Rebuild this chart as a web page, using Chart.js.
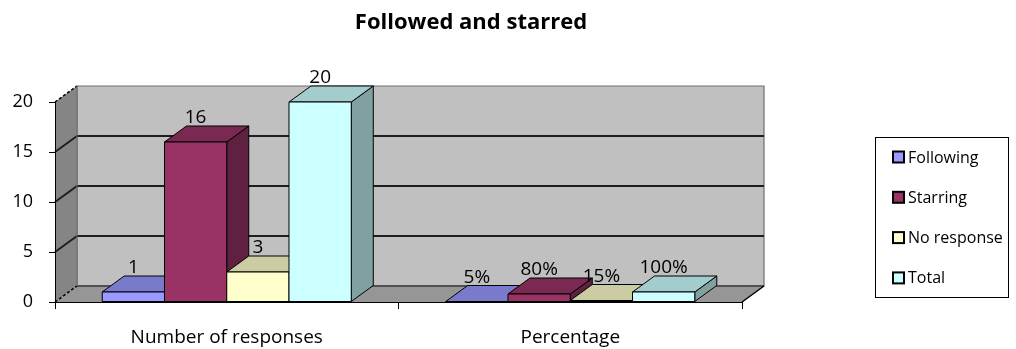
<!DOCTYPE html>
<html>
<head>
<meta charset="utf-8">
<title>Followed and starred</title>
<script src="https://cdn.jsdelivr.net/npm/chart.js@4/dist/chart.umd.min.js"></script>
<style>
  html, body { margin: 0; padding: 0; background: #fff; }
  canvas { display: block; }
</style>
</head>
<body>
<canvas id="chart" width="1016" height="349"></canvas>
<script>
// Categories and series
const categories = ["Number of responses", "Percentage"];
const seriesNames = ["Following", "Starring", "No response", "Total"];
// Values: first category is a count, second is a share (0..1)
const following  = [1, 0.05];
const starring   = [16, 0.80];
const noResponse = [3, 0.15];
const total      = [20, 1.00];
const yTicks = [0, 5, 10, 15, 20];
const chartTitle = "Followed and starred";

const seriesColors = ["#9999FF", "#993366", "#FFFFCC", "#CCFFFF"];
const FONT = "'Open Sans', Lato, sans-serif";

// Oblique depth offset of the 3-D look
const DEPTH_X = 22, DEPTH_Y = 16;

function shade(hex, f) {
  const n = parseInt(hex.slice(1), 16);
  const r = Math.round(((n >> 16) & 255) * f);
  const g = Math.round(((n >> 8) & 255) * f);
  const b = Math.round((n & 255) * f);
  return `rgb(${r},${g},${b})`;
}

function poly(ctx, pts, fill, stroke, width, dash) {
  ctx.save();
  ctx.beginPath();
  ctx.moveTo(pts[0][0], pts[0][1]);
  for (let i = 1; i < pts.length; i++) ctx.lineTo(pts[i][0], pts[i][1]);
  ctx.closePath();
  if (fill) { ctx.fillStyle = fill; ctx.fill(); }
  if (stroke) {
    ctx.strokeStyle = stroke; ctx.lineWidth = width || 1;
    if (dash) ctx.setLineDash(dash);
    ctx.stroke();
  }
  ctx.restore();
}

function line(ctx, x1, y1, x2, y2, color, width, dash) {
  ctx.save();
  ctx.beginPath();
  ctx.moveTo(x1, y1); ctx.lineTo(x2, y2);
  ctx.strokeStyle = color; ctx.lineWidth = width;
  if (dash) ctx.setLineDash(dash);
  ctx.stroke();
  ctx.restore();
}

function formatValue(catIndex, v) {
  return catIndex === 1 ? Math.round(v * 100) + "%" : String(v);
}

// Walls, floor and gridlines of the 3-D box
const wallsPlugin = {
  id: "walls",
  beforeDraw(chart) {
    const { ctx, chartArea: a, scales: { y } } = chart;
    const L = a.left, R = a.right, B = a.bottom, T = a.top;
    const dx = DEPTH_X, dy = DEPTH_Y;
    // back wall
    poly(ctx, [[L + dx, T - dy], [R + dx, T - dy], [R + dx, B - dy], [L + dx, B - dy]], "#C0C0C0", "#6e6e6e", 1.2);
    // left wall
    poly(ctx, [[L, T], [L + dx, T - dy], [L + dx, B - dy], [L, B]], "#858585", null);
    // floor
    poly(ctx, [[L, B], [L + dx, B - dy], [R + dx, B - dy], [R, B]], "#969696", null);
    // gridlines on back and left walls
    yTicks.forEach(v => {
      const py = y.getPixelForValue(v);
      if (v > 0 && v < 20) {
        line(ctx, L + dx, py - dy, R + dx, py - dy, "#1e1e1e", 2);
        line(ctx, L, py, L + dx, py - dy, "#1e1e1e", 2);
      }
    });
    // edges of the box
    line(ctx, L, T, L + dx, T - dy, "#000", 1.5, [3, 2]);
    line(ctx, L, B, L + dx, B - dy, "#000", 1.5, [3, 2]);
    line(ctx, L + dx, B - dy, R + dx, B - dy, "#3a3a3a", 1.5);
    line(ctx, L + dx, T - dy, L + dx, B - dy, "#6a6a6a", 1);
    line(ctx, R + dx, B - dy, R, B, "#000", 1.5);

    // chart title
    ctx.save();
    ctx.font = "bold 22px " + FONT;
    ctx.fillStyle = "#000";
    ctx.textAlign = "center";
    ctx.textBaseline = "middle";
    ctx.fillText(chartTitle, 471, 23);
    ctx.restore();
  }
};

// Draws each bar as a block: front, top and right side faces
const blocksPlugin = {
  id: "blocks",
  beforeDatasetDraw() { return false; },
  afterDatasetsDraw(chart) {
    const { ctx } = chart;
    const dx = DEPTH_X, dy = DEPTH_Y;
    const n = chart.data.labels.length;
    for (let c = 0; c < n; c++) {
      chart.data.datasets.forEach((ds, d) => {
        const el = chart.getDatasetMeta(d).data[c];
        const { x, y, base, width } = el.getProps(["x", "y", "base", "width"], true);
        const l = x - width / 2, r = x + width / 2;
        const col = seriesColors[d];
        // right side
        poly(ctx, [[r, y], [r + dx, y - dy], [r + dx, base - dy], [r, base]], shade(col, 0.63), "#000", 1);
        // top
        poly(ctx, [[l, y], [l + dx, y - dy], [r + dx, y - dy], [r, y]], shade(col, 0.8), "#000", 1);
        // front
        poly(ctx, [[l, y], [r, y], [r, base], [l, base]], col, "#000", 1);
      });
      // value labels
      chart.data.datasets.forEach((ds, d) => {
        const el = chart.getDatasetMeta(d).data[c];
        const { x, y } = el.getProps(["x", "y"], true);
        ctx.save();
        ctx.font = "19px " + FONT;
        ctx.fillStyle = "#000";
        ctx.textAlign = "center";
        ctx.textBaseline = "middle";
        ctx.fillText(formatValue(c, ds.data[c]), x, y - dy - 8);
        ctx.restore();
      });
    }
  }
};

// Boxed legend on the right
const boxLegendPlugin = {
  id: "boxLegend",
  afterDraw(chart) {
    const { ctx } = chart;
    const bx = 875, by = 137, bw = 133, bh = 160;
    ctx.save();
    ctx.fillStyle = "#fff";
    ctx.fillRect(bx, by, bw, bh);
    ctx.strokeStyle = "#000"; ctx.lineWidth = 1;
    ctx.strokeRect(bx + 0.5, by + 0.5, bw, bh);
    ctx.font = "16px " + FONT;
    ctx.textBaseline = "middle";
    chart.data.datasets.forEach((ds, i) => {
      const cy = 157 + i * 40.3;
      ctx.fillStyle = seriesColors[i];
      ctx.fillRect(893, cy - 5.5, 11, 11);
      ctx.strokeStyle = "#000"; ctx.lineWidth = 2;
      ctx.strokeRect(893, cy - 5.5, 11, 11);
      ctx.fillStyle = "#000";
      ctx.fillText(ds.label, 908, cy + 1);
    });
    ctx.restore();
  }
};

const seriesValues = [following, starring, noResponse, total];

new Chart(document.getElementById("chart"), {
  type: "bar",
  data: {
    labels: categories,
    datasets: seriesNames.map((name, i) => ({
      label: name,
      data: seriesValues[i],
      backgroundColor: seriesColors[i],
      borderColor: "#000",
      borderWidth: 1,
      categoryPercentage: 0.725,
      barPercentage: 1
    }))
  },
  options: {
    responsive: false,
    animation: false,
    devicePixelRatio: 1,
    layout: { padding: { left: 0, right: 274, top: 102, bottom: 0 } },
    plugins: {
      legend: { display: false },
      tooltip: { enabled: false },
      title: { display: false }
    },
    scales: {
      x: {
        grid: { display: true, drawOnChartArea: false, tickLength: 7, color: "#000", offset: true },
        border: { display: true, color: "#000", width: 1 },
        ticks: { color: "#000", font: { family: FONT, size: 19 }, padding: 17 },
        afterFit(s) { s.height = 47; }
      },
      y: {
        min: 0, max: 20,
        afterBuildTicks(s) { s.ticks = yTicks.map(v => ({ value: v })); },
        grid: { display: true, drawOnChartArea: false, tickLength: 6, color: "#000" },
        border: { display: true, color: "#000", width: 1 },
        ticks: { color: "#000", font: { family: FONT, size: 18 }, padding: 16 },
        afterFit(s) { s.width = 55; }
      }
    }
  },
  plugins: [wallsPlugin, blocksPlugin, boxLegendPlugin]
});
</script>
</body>
</html>
